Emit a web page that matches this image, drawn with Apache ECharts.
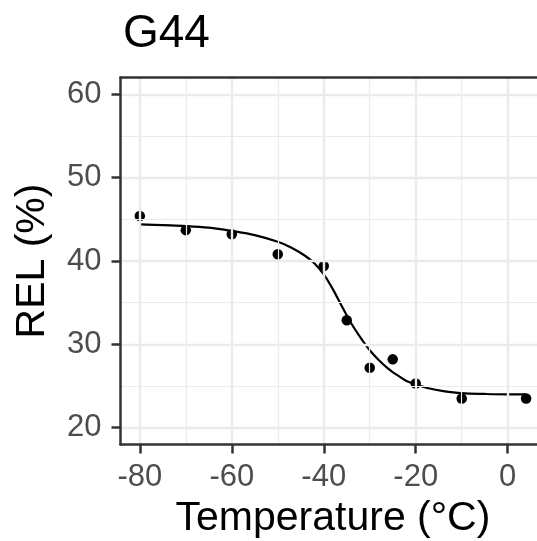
<!DOCTYPE html>
<html>
<head>
<meta charset="utf-8">
<script src="https://cdn.jsdelivr.net/npm/echarts@6/dist/echarts.min.js"></script>
<style>html,body{margin:0;padding:0;background:#fff;}#chart{width:537px;height:541px;}</style>
</head>
<body>
<div id="chart"></div>
<script>
// Observed points
const tempC = [-80, -70, -60, -50, -40, -35, -30, -25, -20, -10, 4];
const relPct = [45.4, 43.7, 43.2, 40.8, 39.4, 32.9, 27.2, 28.2, 25.3, 23.5, 23.5];
// Fitted curve
const fitTemp = [-80, -75, -70, -65, -60, -55, -50, -47, -44, -42, -40, -38, -36, -34, -32, -30, -28, -26, -24, -22, -20, -17, -14, -10, -5, 0, 4];
const fitRel = [44.4, 44.3, 44.2, 44.0, 43.6, 43.1, 42.3, 41.6, 40.6, 39.7, 38.4, 36.6, 34.5, 32.5, 30.8, 29.3, 28.1, 27.1, 26.3, 25.6, 25.2, 24.7, 24.4, 24.15, 24.05, 24.0, 24.0];
// Axes
const xTicks = [-80, -60, -40, -20, 0];
const xMinor = [-70, -50, -30, -10];
const yTicks = [20, 30, 40, 50, 60];
const yMinor = [25, 35, 45, 55];
const xRange = [-84.2, 8.2];
const yRange = [18, 62];
const titleText = 'G44';
const xName = 'Temperature (°C)';
const yName = 'REL (%)';

const FONT = '"Liberation Sans", Arial, sans-serif';
const chart = echarts.init(document.getElementById('chart'), null, {renderer: 'canvas'});

function vLines(vals, w) { return vals.map(v => ({xAxis: v, lineStyle: {color: '#EBEBEB', width: w, type: 'solid'}})); }
function hLines(vals, w) { return vals.map(v => ({yAxis: v, lineStyle: {color: '#EBEBEB', width: w, type: 'solid'}})); }

chart.setOption({
  animation: false,
  backgroundColor: '#fff',
  title: {
    text: titleText, left: 118, top: 6,
    textStyle: {fontFamily: FONT, fontSize: 46, fontWeight: 'normal', color: '#000'}
  },
  grid: {left: 120.5, right: -8.4, top: 77.6, bottom: 96.6, show: false, containLabel: false, outerBoundsMode: 'none'},
  xAxis: [{
    type: 'value', min: xRange[0], max: xRange[1], z: 10,
    name: xName, nameLocation: 'middle', nameGap: 46,
    nameTextStyle: {fontFamily: FONT, fontSize: 41, color: '#000'},
    axisLine: {show: true, onZero: false, lineStyle: {color: '#333333', width: 2.5}},
    axisTick: {show: true, length: 9, customValues: xTicks, lineStyle: {color: '#333333', width: 2.5}},
    axisLabel: {show: true, customValues: xTicks, margin: 18, fontFamily: FONT, fontSize: 31, color: '#4D4D4D'},
    splitLine: {show: false}
  }, {
    type: 'value', position: 'top', min: xRange[0], max: xRange[1], z: 10,
    axisLine: {show: true, onZero: false, lineStyle: {color: '#333333', width: 2.5}},
    axisTick: {show: false}, axisLabel: {show: false}, splitLine: {show: false}
  }],
  yAxis: {
    type: 'value', min: yRange[0], max: yRange[1], z: 10,
    name: yName, nameLocation: 'middle', nameGap: 67, nameRotate: 90,
    nameTextStyle: {fontFamily: FONT, fontSize: 41, color: '#000'},
    axisLine: {show: true, onZero: false, lineStyle: {color: '#333333', width: 2.5}},
    axisTick: {show: true, length: 9, customValues: yTicks, lineStyle: {color: '#333333', width: 2.5}},
    axisLabel: {show: true, customValues: yTicks, margin: 19, fontFamily: FONT, fontSize: 31, color: '#4D4D4D'},
    splitLine: {show: false}
  },
  series: [
    {
      type: 'line', data: [], z: 1, silent: true,
      markLine: {
        silent: true, symbol: ['none', 'none'], label: {show: false}, animation: false,
        data: [].concat(vLines(xMinor, 1.2), hLines(yMinor, 1.2), vLines(xTicks, 2.4), hLines(yTicks, 2.4))
      }
    },
    {
      type: 'line', z: 3, smooth: 0.35, showSymbol: false, symbol: 'none',
      lineStyle: {color: '#000', width: 2.2},
      data: fitTemp.map((t, i) => [t, fitRel[i]])
    },
    {
      type: 'scatter', z: 4, symbolSize: 10.5,
      itemStyle: {color: '#000', opacity: 1},
      data: tempC.map((t, i) => [t, relPct[i]])
    }
  ]
});
</script>
</body>
</html>
